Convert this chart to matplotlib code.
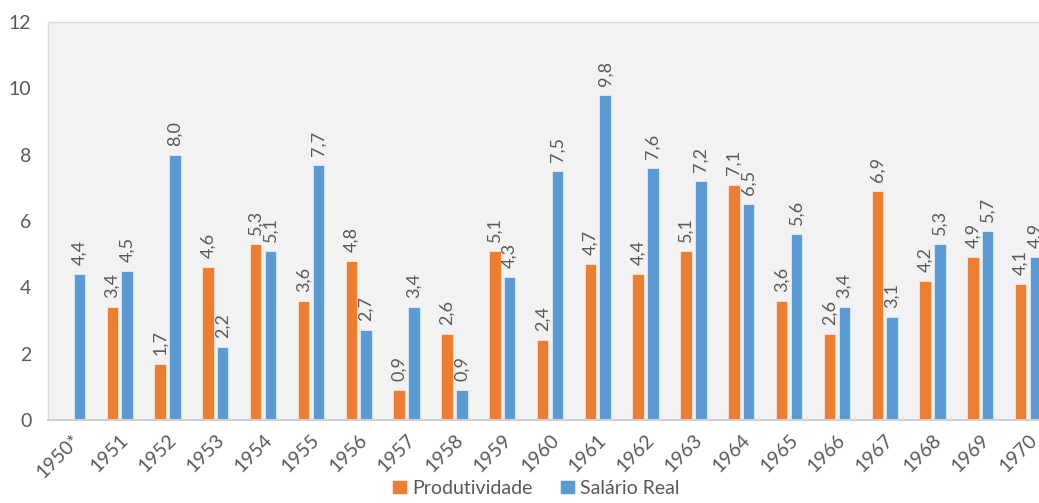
import numpy as np
import matplotlib.pyplot as plt

# Data
anos = ["1950*", "1951", "1952", "1953", "1954", "1955", "1956", "1957", "1958", "1959",
        "1960", "1961", "1962", "1963", "1964", "1965", "1966", "1967", "1968", "1969", "1970"]
produtividade = [np.nan, 3.4, 1.7, 4.6, 5.3, 3.6, 4.8, 0.9, 2.6, 5.1,
                 2.4, 4.7, 4.4, 5.1, 7.1, 3.6, 2.6, 6.9, 4.2, 4.9, 4.1]
salario_real = [4.4, 4.5, 8.0, 2.2, 5.1, 7.7, 2.7, 3.4, 0.9, 4.3,
                7.5, 9.8, 7.6, 7.2, 6.5, 5.6, 3.4, 3.1, 5.3, 5.7, 4.9]

plt.rcParams['font.family'] = ['Lato', 'DejaVu Sans']
cor_texto = "#595959"
cor_laranja = "#ED7D31"
cor_azul = "#5B9BD5"

fig = plt.figure(figsize=(10.39, 5.03), dpi=100)
ax = fig.add_axes([48 / 1039, 83 / 503, 1004 / 1039, 398 / 503])
ax.set_facecolor("#F2F2F2")

x = np.arange(len(anos))
w = 0.24
off = 0.155
b1 = ax.bar(x - off, produtividade, w, color=cor_laranja, edgecolor="white",
            linewidth=0.4, label="Produtividade")
b2 = ax.bar(x + off, salario_real, w, color=cor_azul, edgecolor="white",
            linewidth=0.4, label="Salário Real")

# Value labels (comma decimal, rotated)
for bars, vals in [(b1, produtividade), (b2, salario_real)]:
    for rect, v in zip(bars, vals):
        if np.isnan(v):
            continue
        ax.annotate(f"{v:.1f}".replace(".", ","),
                    (rect.get_x() + rect.get_width() / 2, v),
                    xytext=(0, 6.5), textcoords="offset points",
                    ha="center", va="bottom", rotation=90,
                    fontsize=13, color=cor_texto, annotation_clip=False)

ax.set_xlim(-0.5, len(anos) - 0.5)
ax.set_ylim(0, 12)
ax.set_yticks(range(0, 13, 2))
ax.set_xticks(x)
ax.set_xticklabels(anos, rotation=45, ha="right", rotation_mode="anchor")
ax.tick_params(axis="both", length=0, colors=cor_texto, labelsize=14)
ax.tick_params(axis="y", pad=12)
ax.tick_params(axis="x", pad=8)

for s in ax.spines.values():
    s.set_color("#D9D9D9")
    s.set_linewidth(1.0)
ax.spines["bottom"].set_color("#D0D0D0")
ax.spines["bottom"].set_linewidth(1.5)

leg = fig.legend(loc="lower center", bbox_to_anchor=(536 / 1039, -0.022), ncol=2,
                 frameon=False, fontsize=14, handlelength=0.75, handleheight=0.75,
                 handletextpad=0.3, columnspacing=1.4)
for t in leg.get_texts():
    t.set_color(cor_texto)

fig.savefig("out.png", dpi=100)
